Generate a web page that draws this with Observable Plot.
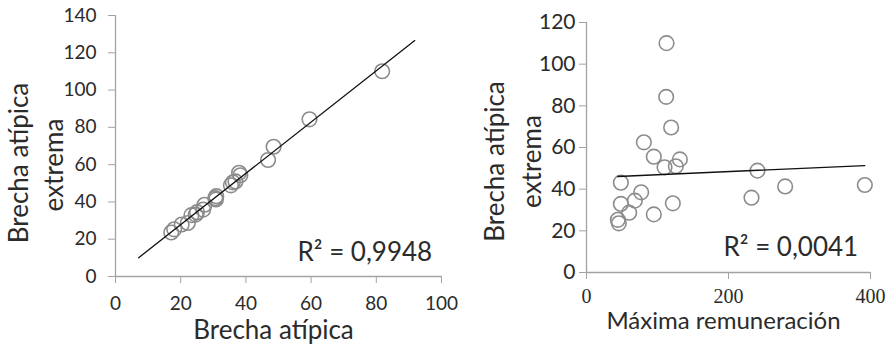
<!DOCTYPE html>
<html>
<head>
<meta charset="utf-8">
<script src="https://cdn.jsdelivr.net/npm/d3@7"></script>
<script src="https://cdn.jsdelivr.net/npm/@observablehq/plot@0.6"></script>
<style>
  html, body { margin: 0; padding: 0; background: #fff; }
  #wrap { display: flex; width: 887px; height: 344px; }
  svg { display: block; }
</style>
</head>
<body>
<div id="wrap"></div>
<script>
// Brecha atípica extrema (shared y values)
const brechaExtrema = [110.1, 84.3, 69.6, 62.5, 55.6, 54.3, 50.5, 51.0, 48.9, 43.1, 42.0, 41.3, 38.5, 34.5, 35.9, 32.9, 33.2, 28.7, 27.9, 23.6, 25.3];
// Brecha atípica (left chart x)
const brechaAtipica = [81.8, 59.5, 48.5, 46.8, 37.9, 38.3, 36.0, 36.8, 35.4, 30.9, 30.6, 30.8, 27.3, 25.0, 26.9, 23.3, 24.6, 22.2, 20.3, 17.1, 18.0];
// Máxima remuneración (right chart x)
const maxRemuneracion = [112.7, 112.2, 119.2, 80.8, 94.8, 131.5, 109.9, 125.8, 240.8, 48.4, 392, 279.8, 77, 68.1, 232.4, 48.4, 121.6, 60.1, 94.8, 45.5, 44.1];

const leftXTicks = [0, 20, 40, 60, 80, 100];
const leftYTicks = [0, 20, 40, 60, 80, 100, 120, 140];
const rightXTicks = [0, 200, 400];
const rightYTicks = [0, 20, 40, 60, 80, 100, 120];

const leftR2 = "R² = 0,9948";
const rightR2 = "R² = 0,0041";
const yTitle1 = "Brecha atípica";
const yTitle2 = "extrema";
const leftXTitle = "Brecha atípica";
const rightXTitle = "Máxima remuneración";

const AXIS = "#a3a3a3";
const TEXT = "#2b2b2b";
const DOT = "#8c8c8c";
const SANS = "Lato, 'Open Sans', sans-serif";
const SERIF = "'Liberation Serif', 'DejaVu Serif', serif";

function regression(xs, ys) {
  const mx = d3.mean(xs), my = d3.mean(ys);
  let sxy = 0, sxx = 0;
  xs.forEach((x, i) => { sxy += (x - mx) * (ys[i] - my); sxx += (x - mx) ** 2; });
  const b = sxy / sxx, a = my - b * mx;
  return {a, b};
}

const leftData = brechaAtipica.map((x, i) => ({x, y: brechaExtrema[i]}));
const rightData = maxRemuneracion.map((x, i) => ({x, y: brechaExtrema[i]}));

const lr = regression(brechaAtipica, brechaExtrema);
const lx0 = d3.min(brechaAtipica) - 10, lx1 = d3.max(brechaAtipica) + 10;
const leftLine = [lx0, lx1].map(x => ({x, y: lr.a + lr.b * x}));

const rr = regression(maxRemuneracion, brechaExtrema);
const rx0 = d3.min(maxRemuneracion), rx1 = d3.max(maxRemuneracion);
const rightLine = [rx0, rx1].map(x => ({x, y: rr.a + rr.b * x}));

const left = Plot.plot({
  width: 460, height: 344,
  marginLeft: 115, marginRight: 19, marginTop: 15, marginBottom: 68,
  style: {fontFamily: SANS, background: "white", overflow: "visible"},
  x: {domain: [0, 100], axis: null},
  y: {domain: [0, 140], axis: null},
  marks: [
    Plot.ruleY([0], {x1: 0, x2: 100, stroke: AXIS, strokeWidth: 1.3}),
    Plot.ruleX([0], {y1: 0, y2: 140, stroke: AXIS, strokeWidth: 1.3}),
    Plot.axisX({ticks: leftXTicks, label: null, tickSize: 7, tickPadding: 13, stroke: AXIS, fill: TEXT, fontSize: 19, fontFamily: SANS, tickFormat: d => d}),
    Plot.axisY({ticks: leftYTicks, label: null, tickSize: 7, tickPadding: 12, stroke: AXIS, fill: TEXT, fontSize: 19, fontFamily: SANS, tickFormat: d => d}),
    Plot.dot(leftData, {x: "x", y: "y", r: 7.3, stroke: DOT, strokeWidth: 1.6, fill: "none"}),
    Plot.line(leftLine, {x: "x", y: "y", stroke: "#111", strokeWidth: 1.3}),
    Plot.text([leftR2], {frameAnchor: "bottom-left", text: d => d, textAnchor: "start", lineAnchor: "bottom", dx: 182, dy: -16, fontSize: 26, fill: TEXT}),
    Plot.text([leftXTitle], {frameAnchor: "bottom", text: d => d, textAnchor: "middle", lineAnchor: "bottom", dx: -5, dy: 62, fontSize: 26, fill: TEXT}),
    Plot.text([yTitle1], {frameAnchor: "left", text: d => d, rotate: -90, textAnchor: "middle", lineAnchor: "bottom", dx: -88, dy: 17, fontSize: 26, fill: TEXT}),
    Plot.text([yTitle2], {frameAnchor: "left", text: d => d, rotate: -90, textAnchor: "middle", lineAnchor: "bottom", dx: -53, dy: 19, fontSize: 26, fill: TEXT})
  ]
});

const right = Plot.plot({
  width: 427, height: 344,
  marginLeft: 126, marginRight: 17, marginTop: 22, marginBottom: 72,
  style: {fontFamily: SANS, background: "white", overflow: "visible"},
  x: {domain: [0, 400], axis: null},
  y: {domain: [0, 120], axis: null},
  marks: [
    Plot.ruleY([0], {x1: 0, x2: 400, stroke: AXIS, strokeWidth: 1.3}),
    Plot.ruleX([0], {y1: 0, y2: 120, stroke: AXIS, strokeWidth: 1.3}),
    Plot.axisX({ticks: rightXTicks, label: null, tickSize: 7, tickPadding: 9, stroke: AXIS, fill: TEXT, fontSize: 20, fontFamily: SERIF, tickFormat: d => d}),
    Plot.axisY({ticks: rightYTicks, label: null, tickSize: 7, tickPadding: 4, stroke: AXIS, fill: TEXT, fontSize: 21, fontFamily: SANS, tickFormat: d => d}),
    Plot.dot(rightData, {x: "x", y: "y", r: 7.3, stroke: DOT, strokeWidth: 1.6, fill: "none"}),
    Plot.line(rightLine, {x: "x", y: "y", stroke: "#111", strokeWidth: 1.3}),
    Plot.text([rightR2], {frameAnchor: "bottom-left", text: d => d, textAnchor: "start", lineAnchor: "bottom", dx: 137, dy: -17, fontSize: 26, fill: TEXT}),
    Plot.text([rightXTitle], {frameAnchor: "bottom", text: d => d, textAnchor: "middle", lineAnchor: "bottom", dx: -5, dy: 56, fontSize: 24, fill: TEXT}),
    Plot.text([yTitle1], {frameAnchor: "left", text: d => d, rotate: -90, textAnchor: "middle", lineAnchor: "bottom", dx: -83, dy: 14, fontSize: 26, fill: TEXT}),
    Plot.text([yTitle2], {frameAnchor: "left", text: d => d, rotate: -90, textAnchor: "middle", lineAnchor: "bottom", dx: -46, dy: 14, fontSize: 26, fill: TEXT})
  ]
});

document.getElementById("wrap").append(left, right);
</script>
</body>
</html>
